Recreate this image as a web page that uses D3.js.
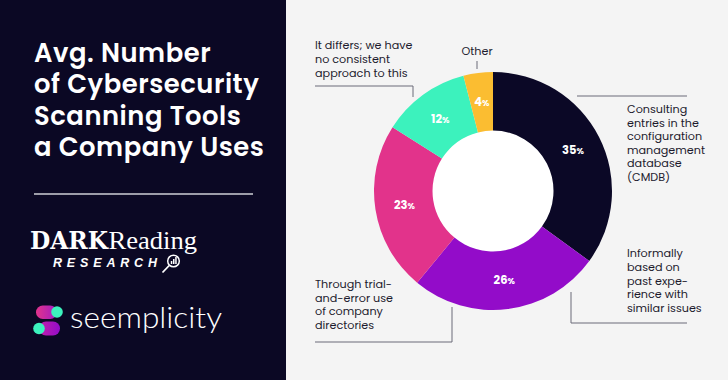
<!DOCTYPE html>
<html><head><meta charset="utf-8">
<script src="https://cdn.jsdelivr.net/npm/d3@7"></script>
<style>
html,body{margin:0;padding:0;background:#f4f4f4;}
svg{display:block;}
</style></head>
<body>
<script>
const categories = [
  "Consulting entries in the configuration management database (CMDB)",
  "Informally based on past experience with similar issues",
  "Through trial-and-error use of company directories",
  "It differs; we have no consistent approach to this",
  "Other"
];
const values = [35, 26, 23, 12, 4];
const colors = ["#0b0826", "#930cc9", "#e2338b", "#3cf2bd", "#fbbd31"];
const titleLines = ["Avg. Number", "of Cybersecurity", "Scanning Tools", "a Company Uses"];
const labelLines = [
  ["Consulting", "entries in the", "configuration", "management", "database", "(CMDB)"],
  ["Informally", "based on", "past expe-", "rience with", "similar issues"],
  ["Through trial-", "and-error use", "of company", "directories"],
  ["It differs; we have", "no consistent", "approach to this"],
  ["Other"]
];

const W = 728, H = 380;
const svg = d3.select("body").append("svg").attr("width", W).attr("height", H);
svg.append("rect").attr("width", W).attr("height", H).attr("fill", "#f4f4f4");

// left panel
svg.append("rect").attr("width", 286).attr("height", H).attr("fill", "#0b0824");
const font = "Poppins, Inter, 'Open Sans', sans-serif";
svg.append("g").selectAll("text").data(titleLines).join("text")
  .attr("x", 34).attr("y", (d, i) => 62 + i * 31.3)
  .attr("fill", "#fff").attr("font-family", font).attr("font-weight", 600)
  .attr("font-size", 25.8).attr("letter-spacing", 0.55).text(d => d);
svg.append("line").attr("x1", 34).attr("x2", 253).attr("y1", 194).attr("y2", 194)
  .attr("stroke", "#cfcfd6").attr("stroke-width", 1.5);

// Dark Reading logo
const serif = "'DejaVu Serif', 'Liberation Serif', serif";
svg.append("text").attr("x", 30).attr("y", 248.5).attr("fill", "#fff")
  .attr("font-family", serif).attr("font-weight", 700).attr("font-size", 23.5)
  .attr("textLength", 78).attr("lengthAdjust", "spacingAndGlyphs").text("DARK");
svg.append("text").attr("x", 108.5).attr("y", 248.5).attr("fill", "#fff")
  .attr("font-family", "'Liberation Serif', serif").attr("font-weight", 400).attr("font-size", 26)
  .attr("textLength", 88.5).attr("lengthAdjust", "spacingAndGlyphs").text("Reading");
svg.append("text").attr("x", 53).attr("y", 266.5).attr("fill", "#fff")
  .attr("font-family", "'Liberation Sans', Arial, sans-serif").attr("font-weight", 700)
  .attr("font-style", "italic").attr("font-size", 12.5).attr("textLength", 104)
  .attr("lengthAdjust", "spacing").text("RESEARCH");
const mg = svg.append("g").attr("stroke", "#fff").attr("fill", "none");
mg.append("circle").attr("cx", 173.5).attr("cy", 261).attr("r", 5.8).attr("stroke-width", 1.5);
mg.append("line").attr("x1", 169.2).attr("y1", 265.5).attr("x2", 162.5).attr("y2", 272.5).attr("stroke-width", 1.8);
[[170.8, 3], [173, 5], [175.2, 7]].forEach(([x, h]) =>
  svg.append("rect").attr("x", x).attr("y", 264 - h).attr("width", 1.5).attr("height", h).attr("fill", "#fff"));

// Seemplicity logo
const defs = svg.append("defs");
const g1 = defs.append("linearGradient").attr("id", "pk").attr("x1", 0).attr("x2", 1);
g1.append("stop").attr("offset", 0).attr("stop-color", "#e2338b");
g1.append("stop").attr("offset", 1).attr("stop-color", "#a21cc3");
const g2 = defs.append("linearGradient").attr("id", "pp").attr("x1", 0).attr("x2", 1);
g2.append("stop").attr("offset", 0).attr("stop-color", "#c21fa8");
g2.append("stop").attr("offset", 1).attr("stop-color", "#930cc9");
svg.append("rect").attr("x", 36).attr("y", 305.5).attr("width", 21).attr("height", 13.5).attr("rx", 6.75).attr("fill", "url(#pk)");
svg.append("circle").attr("cx", 57).attr("cy", 312).attr("r", 5.8).attr("fill", "#3cf2bd");
svg.append("rect").attr("x", 39).attr("y", 321.5).attr("width", 21).attr("height", 14).attr("rx", 7).attr("fill", "url(#pp)");
svg.append("circle").attr("cx", 39).attr("cy", 328.5).attr("r", 5.8).attr("fill", "#3cf2bd");
svg.append("text").attr("x", 70).attr("y", 328).attr("fill", "#fff")
  .attr("font-family", "Lato, 'Open Sans', sans-serif").attr("font-weight", 300)
  .attr("font-size", 29).attr("textLength", 152).attr("lengthAdjust", "spacingAndGlyphs")
  .text("seemplicity");

// donut
const cx = 493, cy = 191, R = 119, r0 = 60.5;
const pie = d3.pie().sort(null).value(d => d)(values);
const arc = d3.arc().innerRadius(r0).outerRadius(R);
const labelArc = d3.arc().innerRadius((R + r0) / 2).outerRadius((R + r0) / 2);
const dg = svg.append("g").attr("transform", `translate(${cx},${cy})`);
dg.append("circle").attr("r", r0).attr("fill", "#fff");
dg.selectAll("path").data(pie).join("path").attr("d", arc).attr("fill", (d, i) => colors[i]);
const pl = dg.selectAll("text.pct").data(pie).join("text").attr("class", "pct")
  .attr("transform", d => `translate(${labelArc.centroid(d)})`)
  .attr("text-anchor", "middle").attr("dy", "0.36em")
  .attr("fill", "#fff").attr("font-family", font).attr("font-weight", 700).attr("font-size", 11.5);
pl.append("tspan").text(d => d.data);
pl.append("tspan").attr("font-size", 8.5).text("%");

// labels
const lab = svg.append("g").attr("fill", "#1d1b2e").attr("font-family", font).attr("font-size", 11.2);
const labelPos = [
  {x: 627, y: 113, lh: 13.6, anchor: "start"},
  {x: 627, y: 257, lh: 13.8, anchor: "start"},
  {x: 315, y: 288, lh: 13.7, anchor: "start"},
  {x: 315, y: 48.5, lh: 14, anchor: "start"},
  {x: 477, y: 55, lh: 14, anchor: "middle"}
];
labelLines.forEach((lines, i) => {
  const p = labelPos[i];
  lab.append("text").attr("text-anchor", p.anchor).selectAll("tspan").data(lines).join("tspan")
    .attr("x", p.x).attr("y", (d, j) => p.y + j * p.lh).text(d => d);
});
const leaders = [
  [[577, 96], [687, 96]],
  [[571, 292], [571, 323], [687, 323]],
  [[452, 307], [452, 342], [315, 342]],
  [[315, 86], [413, 86], [413, 97]],
  [[477, 61], [477, 69]]
];
svg.append("g").selectAll("path").data(leaders).join("path")
  .attr("d", d => d3.line()(d)).attr("fill", "none").attr("stroke", "#6b6b78").attr("stroke-width", 1);
</script>
</body></html>
